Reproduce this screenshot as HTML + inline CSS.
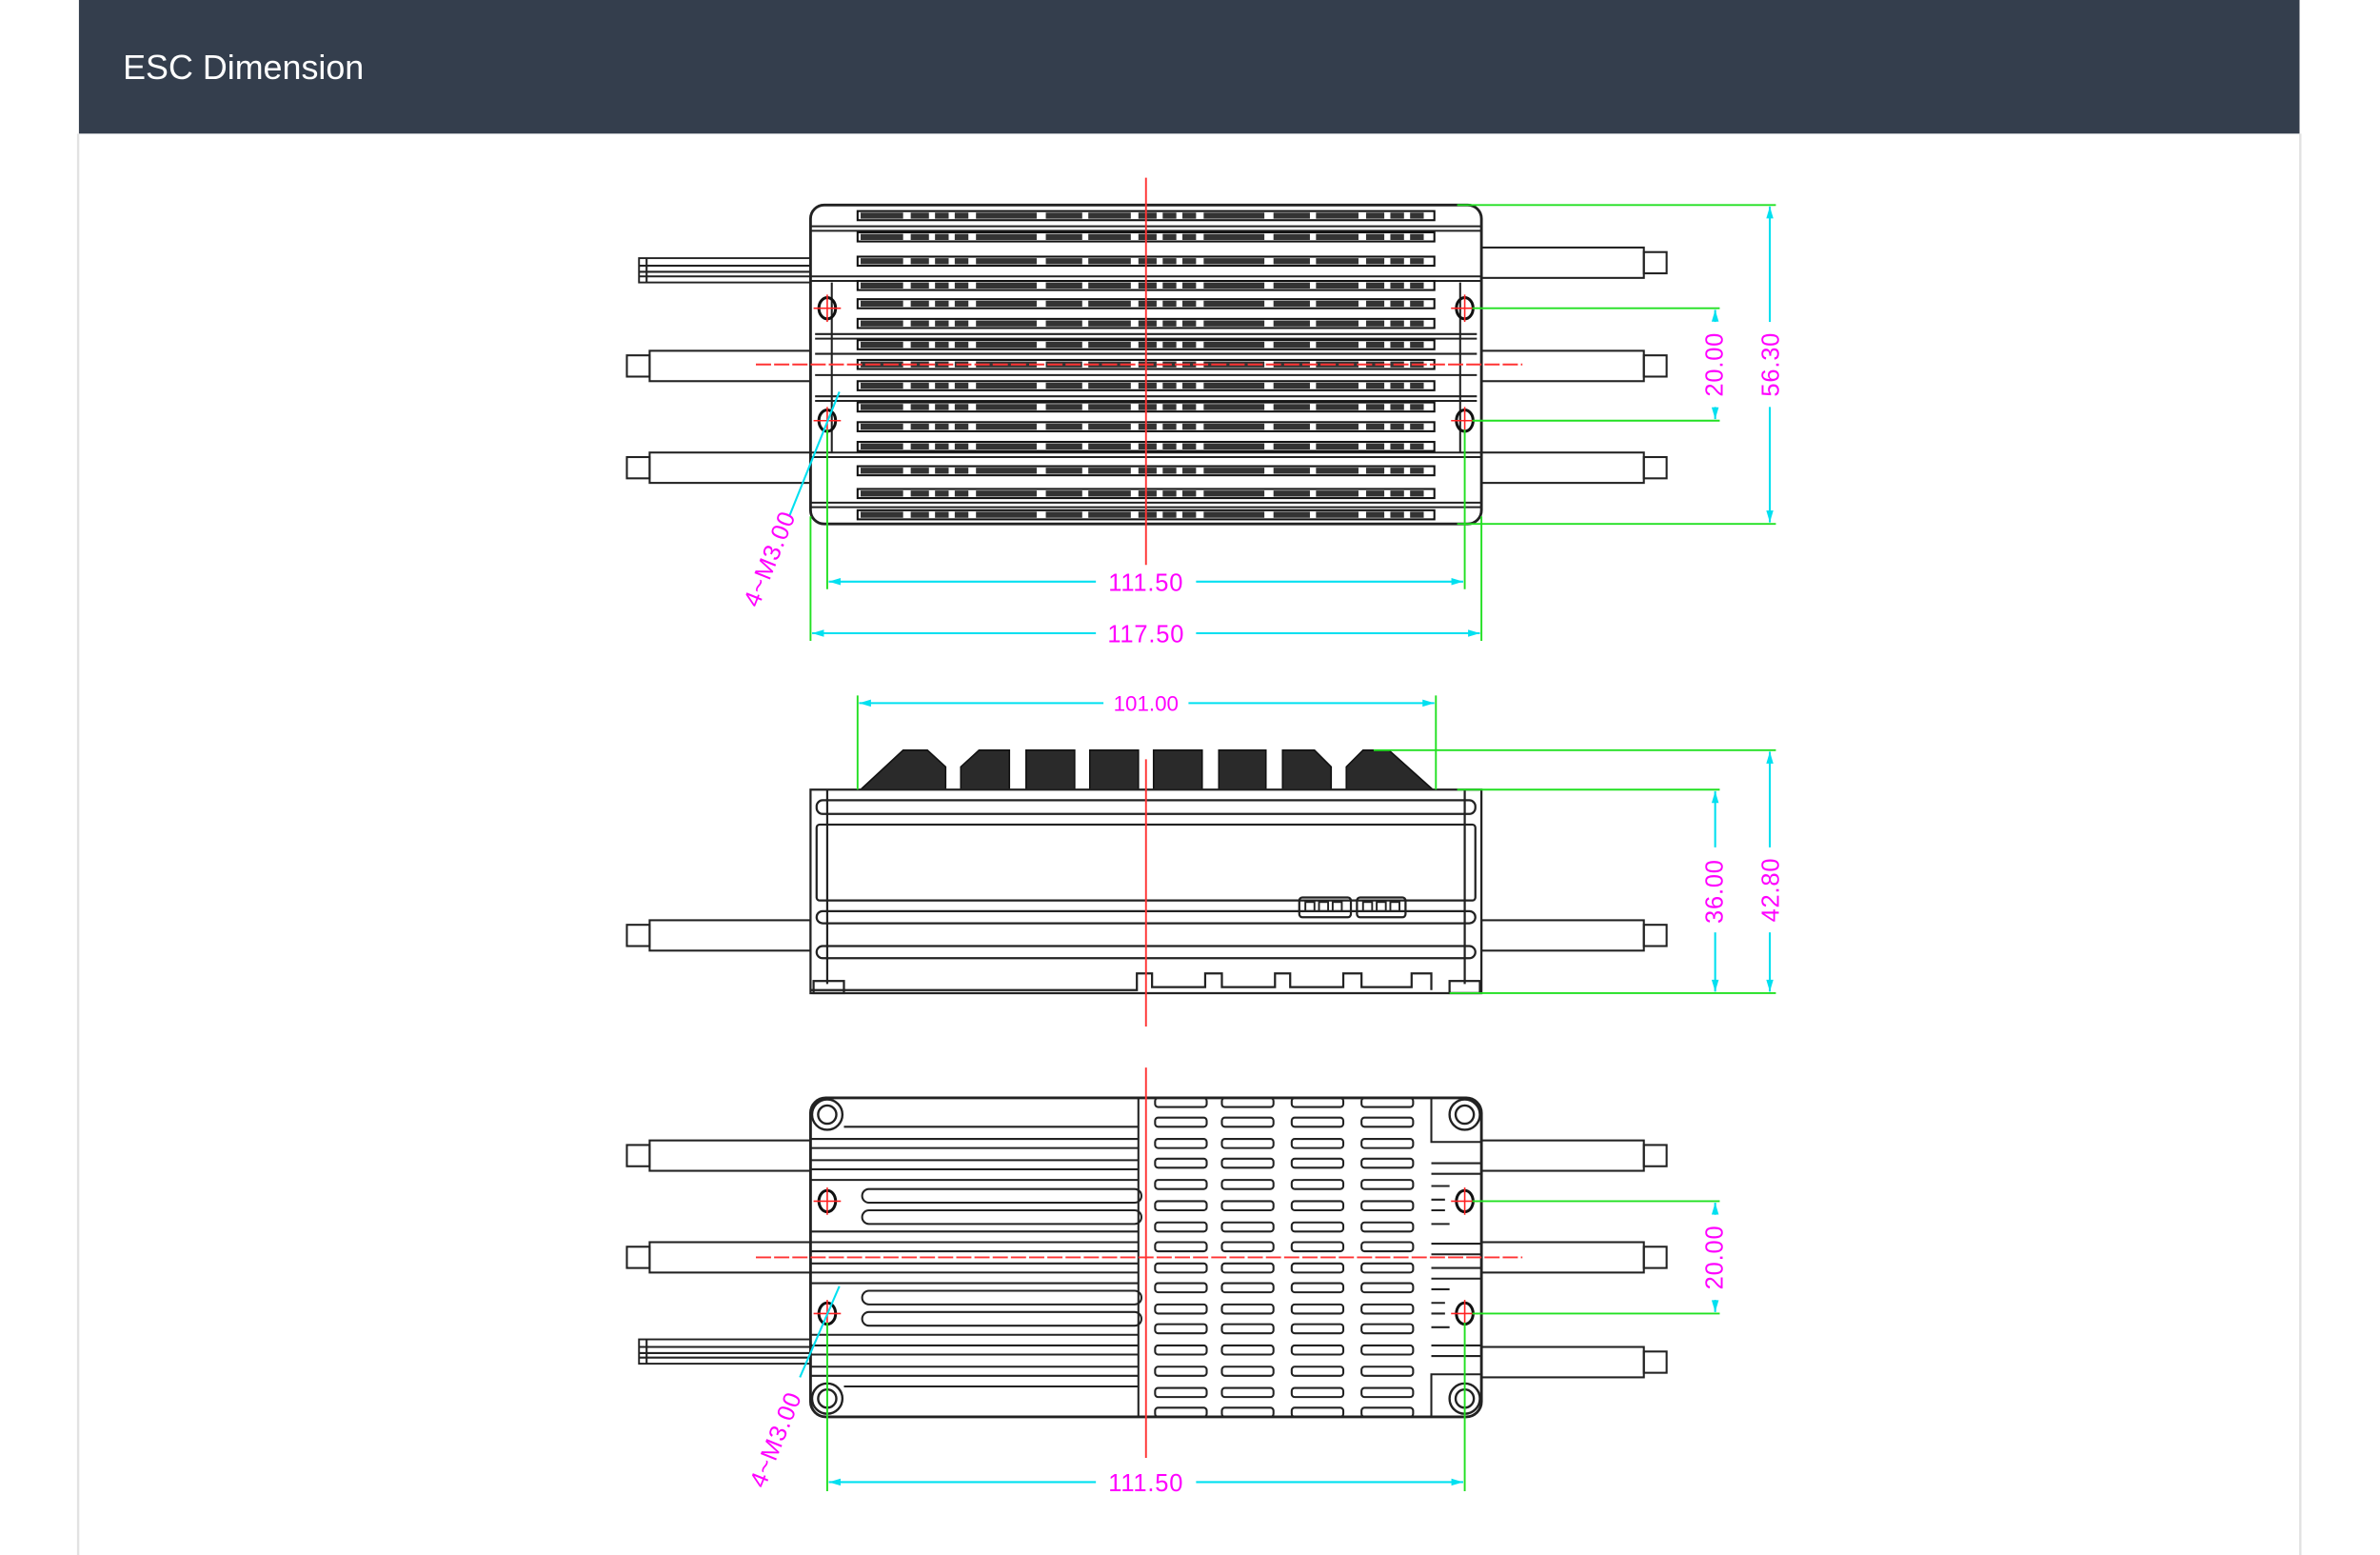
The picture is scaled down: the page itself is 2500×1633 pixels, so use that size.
<!DOCTYPE html>
<html><head><meta charset="utf-8">
<style>
html,body{margin:0;padding:0;background:#fff;}
svg{display:block;}
</style></head>
<body>
<svg width="2500" height="1633" viewBox="0 0 1568 1024" preserveAspectRatio="none" xmlns="http://www.w3.org/2000/svg">
<defs>
<marker id="ar" viewBox="0 0 10 10" refX="10" refY="5" markerWidth="8" markerHeight="6" orient="auto-start-reverse">
<path d="M0,2 L10,5 L0,8 z" fill="#00e0f0"/></marker>
<g id="slot"><rect x="0" y="-3" width="380" height="6" fill="none" stroke="#111" stroke-width="1.3"/>
<line x1="2" y1="0" x2="378" y2="0" stroke="#333" stroke-width="4" stroke-dasharray="28 5 12 4 9 4 9 5 40 6 24 4"/></g>
<g id="cell"><rect x="0" y="-3" width="34" height="6" rx="2" fill="none" stroke="#222" stroke-width="1.3"/></g>
<g id="hole"><ellipse cx="0" cy="0" rx="5.5" ry="7" fill="none" stroke="#111" stroke-width="1.9"/>
<line x1="-9" y1="0" x2="9" y2="0" stroke="#f22" stroke-width="1"/><line x1="0" y1="-9" x2="0" y2="9" stroke="#f22" stroke-width="1"/></g>
<g id="wireL"><rect x="428" y="-10" width="106" height="20" fill="none" stroke="#222" stroke-width="1.3"/><rect x="413" y="-7" width="15" height="14" fill="none" stroke="#222" stroke-width="1.3"/></g>
<g id="wireR"><rect x="976" y="-10" width="107" height="20" fill="none" stroke="#222" stroke-width="1.3"/><rect x="1083" y="-7" width="15" height="14" fill="none" stroke="#222" stroke-width="1.3"/></g>
<g id="sig"><rect x="421" y="-8" width="113" height="16" fill="none" stroke="#222" stroke-width="1.2"/>
<line x1="421" y1="-3" x2="534" y2="-3" stroke="#222"/><line x1="421" y1="1" x2="534" y2="1" stroke="#222"/><line x1="421" y1="4" x2="534" y2="4" stroke="#222"/>
<line x1="426" y1="-8" x2="426" y2="8" stroke="#222"/></g>
</defs>

<rect x="52" y="0" width="1463" height="88" fill="#343e4d"/>
<text x="81" y="52" font-family="Liberation Sans, sans-serif" font-size="22.5" fill="#fff">ESC Dimension</text>
<line x1="51.5" y1="88" x2="51.5" y2="1024" stroke="#e2e2e2" stroke-width="1.5"/>
<line x1="1515.5" y1="88" x2="1515.5" y2="1024" stroke="#e2e2e2" stroke-width="1.5"/>

<!-- TOP VIEW -->
<g stroke="#222" fill="none" stroke-width="1.3">
<use href="#sig" y="178"/>
<use href="#wireL" y="241"/><use href="#wireL" y="308"/>
<use href="#wireR" y="173"/><use href="#wireR" y="241"/><use href="#wireR" y="308"/>
<rect x="534" y="135" width="442" height="210" rx="9" fill="#fff" stroke-width="1.8"/>
<path d="M534 149H976 M534 152H976 M534 182H976 M534 185H976 M537 220H973 M537 223H973 M537 233H973 M537 247H973 M537 261H973 M537 264H973 M534 298H976 M534 301H976 M534 331H976 M534 334H976"/>
<line x1="548" y1="186" x2="548" y2="298"/><line x1="962" y1="186" x2="962" y2="298"/>
</g>
<g>
<use href="#slot" x="565" y="142"/><use href="#slot" x="565" y="156"/><use href="#slot" x="565" y="172"/>
<use href="#slot" x="565" y="188"/><use href="#slot" x="565" y="200"/><use href="#slot" x="565" y="213"/>
<use href="#slot" x="565" y="227"/><use href="#slot" x="565" y="240"/><use href="#slot" x="565" y="254"/>
<use href="#slot" x="565" y="268"/><use href="#slot" x="565" y="281"/><use href="#slot" x="565" y="294"/>
<use href="#slot" x="565" y="310"/><use href="#slot" x="565" y="325"/><use href="#slot" x="565" y="339"/>
</g>
<g fill="#fff"><use href="#hole" x="545" y="203"/><use href="#hole" x="965" y="203"/><use href="#hole" x="545" y="277"/><use href="#hole" x="965" y="277"/></g>
<line x1="755" y1="117" x2="755" y2="372" stroke="#f33" stroke-width="1.2"/>
<line x1="498" y1="240" x2="1003" y2="240" stroke="#f33" stroke-width="1.2" stroke-dasharray="10 2"/>
<g stroke="#22e022" stroke-width="1.2">
<line x1="960" y1="135" x2="1170" y2="135"/><line x1="970" y1="203" x2="1133" y2="203"/>
<line x1="970" y1="277" x2="1133" y2="277"/><line x1="960" y1="345" x2="1170" y2="345"/>
<line x1="545" y1="283" x2="545" y2="388"/><line x1="965" y1="283" x2="965" y2="388"/>
<line x1="534" y1="340" x2="534" y2="422"/><line x1="976" y1="340" x2="976" y2="422"/>
</g>
<g stroke="#00e0f0" stroke-width="1.3">
<line x1="1130" y1="204" x2="1130" y2="276" marker-start="url(#ar)" marker-end="url(#ar)"/>
<line x1="1166" y1="136" x2="1166" y2="344" marker-start="url(#ar)" marker-end="url(#ar)"/>
<line x1="546" y1="383" x2="964" y2="383" marker-start="url(#ar)" marker-end="url(#ar)"/>
<line x1="535" y1="417" x2="975" y2="417" marker-start="url(#ar)" marker-end="url(#ar)"/>
<line x1="553" y1="258" x2="520" y2="340"/>
</g>
<g font-family="Liberation Sans, sans-serif" font-size="16" fill="#f0f" text-anchor="middle">
<rect x="1120" y="212" width="20" height="56" fill="#fff"/><rect x="1156" y="212" width="20" height="56" fill="#fff"/>
<text transform="translate(1135,240) rotate(-90)" letter-spacing="0.5">20.00</text>
<text transform="translate(1172,240) rotate(-90)" letter-spacing="0.5">56.30</text>
<rect x="722" y="374" width="66" height="18" fill="#fff"/><rect x="722" y="408" width="66" height="18" fill="#fff"/>
<text x="755" y="389" letter-spacing="0.5">111.50</text>
<text x="755" y="423" letter-spacing="0.5">117.50</text>
<text transform="translate(512,370) rotate(-68)" letter-spacing="0.5">4~M3.00</text>
</g>

<!-- SIDE VIEW -->
<g stroke="#222" fill="none" stroke-width="1.3">
<use href="#wireL" y="616"/><use href="#wireR" y="616"/>
</g>
<g fill="#2a2a2a" stroke="#111" stroke-width="1">
<path d="M567 520 L595 494 L611 494 L623 505 L623 520 Z"/>
<path d="M633 520 L633 505 L645 494 L665 494 L665 520 Z"/>
<rect x="676" y="494" width="32" height="26"/><rect x="718" y="494" width="32" height="26"/>
<rect x="760" y="494" width="32" height="26"/><rect x="803" y="494" width="31" height="26"/>
<path d="M845 494 L866 494 L877 505 L877 520 L845 520 Z"/>
<path d="M887 520 L887 505 L898 494 L915 494 L944 520 Z"/>
</g>
<g stroke="#222" fill="none" stroke-width="1.4">
<path d="M534 520 H976 V654 H534 Z" fill="#fff"/>
<line x1="545" y1="520" x2="545" y2="648"/><line x1="965" y1="520" x2="965" y2="648"/>
<rect x="538" y="527" width="434" height="9" rx="4"/>
<rect x="538" y="543" width="434" height="50" rx="2"/>
<rect x="538" y="600" width="434" height="8" rx="4"/>
<rect x="538" y="623" width="434" height="8" rx="4"/>
<path d="M534 652 H749 V641 H759 V650 H794 V641 H805 V650 H840 V641 H850 V650 H885 V641 H897 V650 H930 V641 H943 V652"/>
<rect x="536" y="646" width="20" height="8"/><rect x="955" y="646" width="20" height="8"/>
<rect x="856" y="591" width="34" height="13" rx="2"/><rect x="894" y="591" width="32" height="13" rx="2"/>
</g>
<g fill="none" stroke="#222" stroke-width="1.2">
<rect x="860" y="594" width="6" height="6"/><rect x="869" y="594" width="6" height="6"/><rect x="878" y="594" width="6" height="6"/>
<rect x="898" y="594" width="6" height="6"/><rect x="907" y="594" width="6" height="6"/><rect x="916" y="594" width="6" height="6"/>
</g>
<line x1="755" y1="500" x2="755" y2="676" stroke="#f33" stroke-width="1.2"/>
<g stroke="#22e022" stroke-width="1.2">
<line x1="565" y1="458" x2="565" y2="520"/><line x1="946" y1="458" x2="946" y2="520"/>
<line x1="905" y1="494" x2="1170" y2="494"/><line x1="960" y1="520" x2="1133" y2="520"/>
<line x1="955" y1="654" x2="1170" y2="654"/>
</g>
<g stroke="#00e0f0" stroke-width="1.3">
<line x1="566" y1="463" x2="945" y2="463" marker-start="url(#ar)" marker-end="url(#ar)"/>
<line x1="1130" y1="521" x2="1130" y2="653" marker-start="url(#ar)" marker-end="url(#ar)"/>
<line x1="1166" y1="495" x2="1166" y2="653" marker-start="url(#ar)" marker-end="url(#ar)"/>
</g>
<g font-family="Liberation Sans, sans-serif" fill="#f0f" text-anchor="middle">
<rect x="727" y="455" width="56" height="16" fill="#fff"/>
<text x="755" y="468" font-size="14">101.00</text>
<rect x="1120" y="558" width="20" height="56" fill="#fff"/><rect x="1156" y="558" width="20" height="56" fill="#fff"/>
<text transform="translate(1135,587) rotate(-90)" font-size="16" letter-spacing="0.5">36.00</text>
<text transform="translate(1172,586) rotate(-90)" font-size="16" letter-spacing="0.5">42.80</text>
</g>

<!-- BOTTOM VIEW -->
<g stroke="#222" fill="none" stroke-width="1.3">
<use href="#wireL" y="761"/><use href="#wireL" y="828"/><use href="#sig" y="890"/>
<use href="#wireR" y="761"/><use href="#wireR" y="828"/><use href="#wireR" y="897"/>
<rect x="534" y="723" width="442" height="210" rx="10" fill="#fff" stroke-width="1.8"/>
<line x1="750" y1="723" x2="750" y2="933"/>
<path d="M556 742H750 M534 750H750 M534 756H750 M534 764H750 M534 770H750 M534 777H750 M534 811H750 M534 818H750 M534 824H750 M534 832H750 M534 838H750 M534 845H750 M534 879H750 M534 886H750 M534 892H750 M534 900H750 M534 906H750 M556 913H750" />
<rect x="568" y="783" width="184" height="9" rx="4.5"/><rect x="568" y="797" width="184" height="9" rx="4.5"/>
<rect x="568" y="850" width="184" height="9" rx="4.5"/><rect x="568" y="864" width="184" height="9" rx="4.5"/>
<path d="M943 723 V752 H976 M943 933 V905 H976"/>
<path d="M943 781 H955 M943 790 H952 M943 797 H952 M943 806 H955 M943 849 H955 M943 858 H952 M943 865 H952 M943 874 H955"/>
<path d="M943 766 H976 M943 773 H976 M943 819 H976 M943 826 H976 M943 835 H976 M943 842 H976 M943 886 H976 M943 893 H976"/>
</g>
<g>
<use href="#cell" x="761" y="726"/><use href="#cell" x="805" y="726"/><use href="#cell" x="851" y="726"/><use href="#cell" x="897" y="726"/>
<use href="#cell" x="761" y="739"/><use href="#cell" x="805" y="739"/><use href="#cell" x="851" y="739"/><use href="#cell" x="897" y="739"/>
<use href="#cell" x="761" y="753"/><use href="#cell" x="805" y="753"/><use href="#cell" x="851" y="753"/><use href="#cell" x="897" y="753"/>
<use href="#cell" x="761" y="766"/><use href="#cell" x="805" y="766"/><use href="#cell" x="851" y="766"/><use href="#cell" x="897" y="766"/>
<use href="#cell" x="761" y="780"/><use href="#cell" x="805" y="780"/><use href="#cell" x="851" y="780"/><use href="#cell" x="897" y="780"/>
<use href="#cell" x="761" y="794"/><use href="#cell" x="805" y="794"/><use href="#cell" x="851" y="794"/><use href="#cell" x="897" y="794"/>
<use href="#cell" x="761" y="808"/><use href="#cell" x="805" y="808"/><use href="#cell" x="851" y="808"/><use href="#cell" x="897" y="808"/>
<use href="#cell" x="761" y="821"/><use href="#cell" x="805" y="821"/><use href="#cell" x="851" y="821"/><use href="#cell" x="897" y="821"/>
<use href="#cell" x="761" y="835"/><use href="#cell" x="805" y="835"/><use href="#cell" x="851" y="835"/><use href="#cell" x="897" y="835"/>
<use href="#cell" x="761" y="848"/><use href="#cell" x="805" y="848"/><use href="#cell" x="851" y="848"/><use href="#cell" x="897" y="848"/>
<use href="#cell" x="761" y="862"/><use href="#cell" x="805" y="862"/><use href="#cell" x="851" y="862"/><use href="#cell" x="897" y="862"/>
<use href="#cell" x="761" y="875"/><use href="#cell" x="805" y="875"/><use href="#cell" x="851" y="875"/><use href="#cell" x="897" y="875"/>
<use href="#cell" x="761" y="889"/><use href="#cell" x="805" y="889"/><use href="#cell" x="851" y="889"/><use href="#cell" x="897" y="889"/>
<use href="#cell" x="761" y="903"/><use href="#cell" x="805" y="903"/><use href="#cell" x="851" y="903"/><use href="#cell" x="897" y="903"/>
<use href="#cell" x="761" y="917"/><use href="#cell" x="805" y="917"/><use href="#cell" x="851" y="917"/><use href="#cell" x="897" y="917"/>
<use href="#cell" x="761" y="930"/><use href="#cell" x="805" y="930"/><use href="#cell" x="851" y="930"/><use href="#cell" x="897" y="930"/>
</g>
<g fill="#fff" stroke="#222" stroke-width="1.5">
<circle cx="545" cy="734" r="10"/><circle cx="545" cy="734" r="6"/>
<circle cx="965" cy="734" r="10"/><circle cx="965" cy="734" r="6"/>
<circle cx="545" cy="921" r="10"/><circle cx="545" cy="921" r="6"/>
<circle cx="965" cy="921" r="10"/><circle cx="965" cy="921" r="6"/>
</g>
<g fill="#fff"><use href="#hole" x="545" y="791"/><use href="#hole" x="965" y="791"/><use href="#hole" x="545" y="865"/><use href="#hole" x="965" y="865"/></g>
<line x1="755" y1="703" x2="755" y2="960" stroke="#f33" stroke-width="1.2"/>
<line x1="498" y1="828" x2="1003" y2="828" stroke="#f33" stroke-width="1.2" stroke-dasharray="10 2"/>
<g stroke="#22e022" stroke-width="1.2">
<line x1="970" y1="791" x2="1133" y2="791"/><line x1="970" y1="865" x2="1133" y2="865"/>
<line x1="545" y1="871" x2="545" y2="982"/><line x1="965" y1="871" x2="965" y2="982"/>
</g>
<g stroke="#00e0f0" stroke-width="1.3">
<line x1="1130" y1="792" x2="1130" y2="864" marker-start="url(#ar)" marker-end="url(#ar)"/>
<line x1="546" y1="976" x2="964" y2="976" marker-start="url(#ar)" marker-end="url(#ar)"/>
<line x1="553" y1="847" x2="527" y2="907"/>
</g>
<g font-family="Liberation Sans, sans-serif" font-size="16" fill="#f0f" text-anchor="middle">
<rect x="1120" y="800" width="20" height="56" fill="#fff"/>
<text transform="translate(1135,828) rotate(-90)" letter-spacing="0.5">20.00</text>
<rect x="722" y="967" width="66" height="18" fill="#fff"/>
<text x="755" y="982" letter-spacing="0.5">111.50</text>
<text transform="translate(516,950) rotate(-68)" letter-spacing="0.5">4~M3.00</text>
</g>
</svg>
</body></html>
